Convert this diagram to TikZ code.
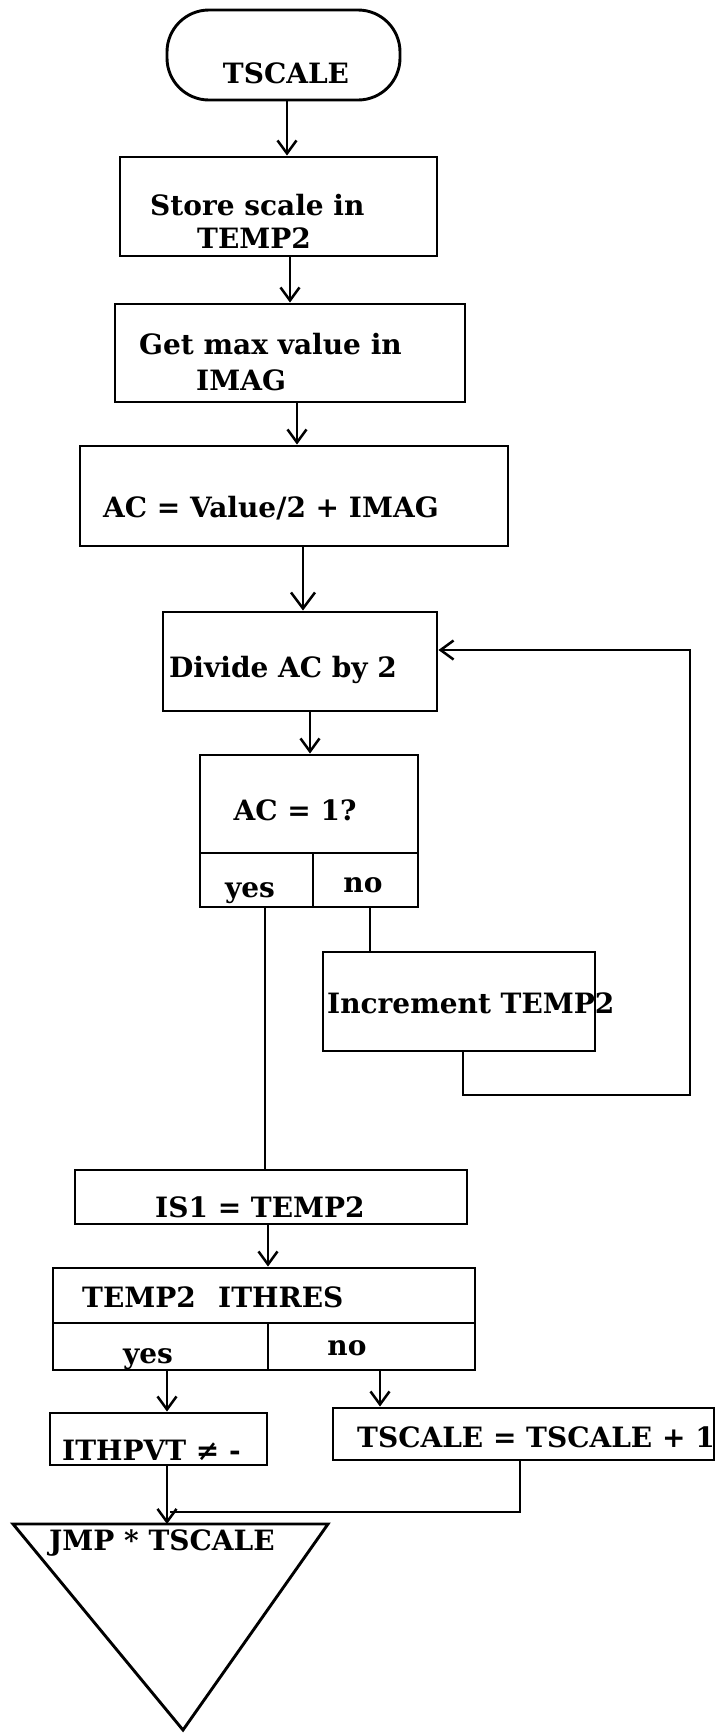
\documentclass[tikz,border=0pt]{standalone}
\usepackage{fontspec}
\setmainfont{DejaVu Serif}
\usetikzlibrary{arrows.meta}
\begin{document}
\begin{tikzpicture}[x=1pt,y=-1pt,
  box/.style={draw, line width=2.9pt, rectangle, inner sep=0pt},
  lbl/.style={inner sep=0pt, font=\bfseries\fontsize{28}{33}\selectfont},
  conn/.style={line width=2.5pt},
  arr/.style={conn, -{Straight Barb[length=13pt,width=19pt]}},
  bigarr/.style={conn, -{Straight Barb[length=16pt,width=24pt]}},
]
\useasboundingbox (0,0) rectangle (717,1733);
\clip (0,0) rectangle (717,1733);

% ---- boxes ----
\node[box, rounded corners=42pt, minimum width=233pt, minimum height=90pt] (start) at (283.5,55) {};
\node[box, minimum width=317pt, minimum height=99pt] (store) at (278.5,206.5) {};
\node[box, minimum width=350pt, minimum height=98pt] (getmax) at (290,353) {};
\node[box, minimum width=428pt, minimum height=100pt] (acval) at (294,496) {};
\node[box, minimum width=274pt, minimum height=99pt] (divide) at (300,661.5) {};
\node[box, minimum width=218pt, minimum height=98pt] (ac1) at (309,804) {};
\node[box, minimum width=113pt, minimum height=54pt] (ac1yes) at (256.5,880) {};
\node[box, minimum width=105pt, minimum height=54pt] (ac1no) at (365.5,880) {};
\node[box, minimum width=272pt, minimum height=99pt] (incr) at (459,1001.5) {};
\node[box, minimum width=392pt, minimum height=54pt] (is1) at (271,1197) {};
\node[box, minimum width=422pt, minimum height=55pt] (thr) at (264,1295.5) {};
\node[box, minimum width=215pt, minimum height=47pt] (thryes) at (160.5,1346.5) {};
\node[box, minimum width=207pt, minimum height=47pt] (thrno) at (371.5,1346.5) {};
\node[box, minimum width=217pt, minimum height=52pt] (ithpvt) at (158.5,1439) {};
\node[box, minimum width=381pt, minimum height=52pt] (plus1) at (523.5,1434) {};
\coordinate (jmp) at (167,1524);
\draw[line width=2.9pt, line join=miter] (13,1524) -- (328,1524) -- (183,1730) -- cycle;

% ---- texts ----
\node[lbl, anchor=base] (t-start) at (286,83) {TSCALE};
\node[lbl, anchor=base west] (t-store1) at (150,215) {Store scale in};
\node[lbl, anchor=base west] (t-store2) at (197,248) {TEMP2};
\node[lbl, anchor=base west] (t-get1) at (139,354) {Get max value in};
\node[lbl, anchor=base west] (t-get2) at (196,390) {IMAG};
\node[lbl, anchor=base west] (t-acval) at (103,517) {AC = Value/2 + IMAG};
\node[lbl, anchor=base west] (t-divide) at (169,677) {Divide AC by 2};
\node[lbl, anchor=base] (t-ac1) at (295,820) {AC = 1?};
\node[lbl, anchor=base] (t-ac1yes) at (250,897) {yes};
\node[lbl, anchor=base] (t-ac1no) at (363,892) {no};
\node[lbl, anchor=base west] (t-incr) at (327,1013) {Increment TEMP2};
\node[lbl, anchor=base west] (t-is1) at (155,1217) {IS1 = TEMP2};
\node[lbl, anchor=base west] (t-thr1) at (82,1307) {TEMP2};
\node[lbl, anchor=base west] (t-thr2) at (218,1307) {ITHRES};
\node[lbl, anchor=base] (t-thryes) at (148,1363) {yes};
\node[lbl, anchor=base] (t-thrno) at (347,1355) {no};
\node[lbl, anchor=base west] (t-ithpvt) at (62,1460) {ITHPVT ≠ -};
\node[lbl, anchor=base west] (t-plus1) at (357,1447) {TSCALE = TSCALE + 1};
\node[lbl, anchor=base west] (t-jmp) at (49,1550) {JMP * TSCALE};

% ---- connectors ----
\draw[arr] ([xshift=3.5pt]start.south) -- ([xshift=3.5pt]start.south |- store.north);
\draw[arr] ([xshift=11.5pt]store.south) -- ([xshift=11.5pt]store.south |- getmax.north);
\draw[arr] ([xshift=7pt]getmax.south) -- ([xshift=7pt]getmax.south |- acval.north);
\draw[bigarr] ([xshift=9pt]acval.south) -- ([xshift=9pt]acval.south |- divide.north);
\draw[arr] ([xshift=10pt]divide.south) -- ([xshift=10pt]divide.south |- ac1.north);
\draw[conn] ([xshift=8.5pt]ac1yes.south) -- ([xshift=8.5pt]ac1yes.south |- is1.north);
\draw[conn] ([xshift=4.5pt]ac1no.south) -- ([xshift=4.5pt]ac1no.south |- incr.north);
\coordinate (fb) at (690,1095);
\draw[arr] ([xshift=4pt]incr.south) |- (fb) |- ([yshift=11.5pt]divide.east);
\draw[arr] ([xshift=-3pt]is1.south) -- ([xshift=-3pt]is1.south |- thr.north);
\draw[arr] ([xshift=6.5pt]thryes.south) -- ([xshift=6.5pt]thryes.south |- ithpvt.north);
\draw[arr] ([xshift=8.5pt]thrno.south) -- ([xshift=8.5pt]thrno.south |- plus1.north);
\draw[arr] ([xshift=8.5pt]ithpvt.south) -- (jmp);
\coordinate (mrg) at (170,1512);
\draw[conn] ([xshift=-3.5pt]plus1.south) |- (mrg);
\end{tikzpicture}
\end{document}
